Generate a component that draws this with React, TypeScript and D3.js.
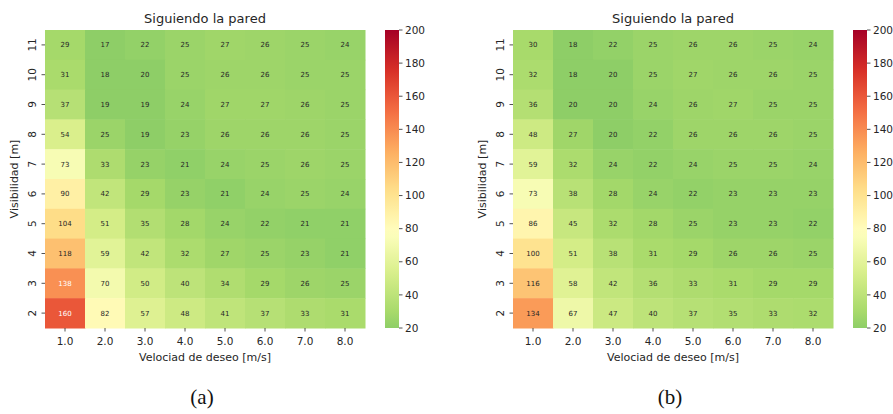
import React from 'react';
import * as d3 from 'd3';

// data
const speeds = ['1.0', '2.0', '3.0', '4.0', '5.0', '6.0', '7.0', '8.0'];
const visibilities = ['11', '10', '9', '8', '7', '6', '5', '4', '3', '2'];

const valuesA = [
  [29, 17, 22, 25, 27, 26, 25, 24],
  [31, 18, 20, 25, 26, 26, 25, 25],
  [37, 19, 19, 24, 27, 27, 26, 25],
  [54, 25, 19, 23, 26, 26, 26, 25],
  [73, 33, 23, 21, 24, 25, 26, 25],
  [90, 42, 29, 23, 21, 24, 25, 24],
  [104, 51, 35, 28, 24, 22, 21, 21],
  [118, 59, 42, 32, 27, 25, 23, 21],
  [138, 70, 50, 40, 34, 29, 26, 25],
  [160, 82, 57, 48, 41, 37, 33, 31],
];

const valuesB = [
  [30, 18, 22, 25, 26, 26, 25, 24],
  [32, 18, 20, 25, 27, 26, 26, 25],
  [36, 20, 20, 24, 26, 27, 25, 25],
  [48, 27, 20, 22, 26, 26, 26, 25],
  [59, 32, 24, 22, 24, 25, 25, 24],
  [73, 38, 28, 24, 22, 23, 23, 23],
  [86, 45, 32, 28, 25, 23, 23, 22],
  [100, 51, 38, 31, 29, 26, 26, 25],
  [116, 58, 42, 36, 33, 31, 29, 29],
  [134, 67, 47, 40, 37, 35, 33, 32],
];

const cbarTicks = [20, 40, 60, 80, 100, 120, 140, 160, 180, 200];

const vmin = 20;
const vmax = 200;
const center = 78;

// RdYlGn stops (matplotlib), used reversed
const rdylgn = ['#a50026', '#d73027', '#f46d43', '#fdae61', '#fee08b', '#ffffbf',
  '#d9ef8b', '#a6d96a', '#66bd63', '#1a9850', '#006837'];

const cmap = d3.scaleLinear<string>()
  .domain(d3.range(11).map((i) => i / 10))
  .range(rdylgn.slice().reverse())
  .interpolate(d3.interpolateRgb);

// seaborn-style centering: the map spans center +/- vrange, cut to [vmin, vmax]
const vrange = Math.max(vmax - center, center - vmin);
const norm = d3.scaleLinear().domain([center - vrange, center + vrange]).range([0, 1]).clamp(true);
const colorOf = (v) => cmap(norm(Math.max(vmin, Math.min(vmax, v))));

const luminance = (c) => {
  const rgb = d3.rgb(c);
  const lin = (x) => {
    const s = x / 255;
    return s <= 0.03928 ? s / 12.92 : Math.pow((s + 0.055) / 1.055, 2.4);
  };
  return 0.2126 * lin(rgb.r) + 0.7152 * lin(rgb.g) + 0.0722 * lin(rgb.b);
};

const font = 'DejaVu Sans, sans-serif';
const top = 30;
const plotW = 320;
const plotH = 298;

const Heatmap = ({ left, values, caption, id }) => {
  const x = d3.scaleBand().domain(speeds).range([0, plotW]);
  const y = d3.scaleBand().domain(visibilities).range([0, plotH]);
  const cbX = plotW + 20;
  const cbW = 14;
  const cbY = d3.scaleLinear().domain([vmin, vmax]).range([plotH, 0]);
  const stops = d3.range(vmin, vmax + 1, 5);

  return (
    <g transform={`translate(${left}, ${top})`}>
      <defs>
        <linearGradient id={`cb-${id}`} x1="0" y1="1" x2="0" y2="0">
          {stops.map((s) => (
            <stop key={s} offset={(s - vmin) / (vmax - vmin)} stopColor={colorOf(s)} />
          ))}
        </linearGradient>
      </defs>
      <text x={plotW / 2} y={-7} textAnchor="middle" fontFamily={font} fontSize={13} fill="#262626">
        Siguiendo la pared
      </text>
      {values.map((row, i) =>
        row.map((v, j) => {
          const c = colorOf(v);
          return (
            <g key={`${i}-${j}`}>
              <rect
                x={x(speeds[j])}
                y={y(visibilities[i])}
                width={x.bandwidth() + 0.5}
                height={y.bandwidth() + 0.5}
                fill={c}
              />
              <text
                x={x(speeds[j]) + x.bandwidth() / 2}
                y={y(visibilities[i]) + y.bandwidth() / 2}
                dy="0.35em"
                textAnchor="middle"
                fontFamily={font}
                fontSize={7}
                fill={luminance(c) > 0.408 ? '#262626' : '#ffffff'}
              >
                {v}
              </text>
            </g>
          );
        })
      )}
      {speeds.map((s) => (
        <g key={s} transform={`translate(${x(s) + x.bandwidth() / 2}, ${plotH})`}>
          <line y2={3.5} stroke="#262626" strokeWidth={0.8} />
          <text y={17} textAnchor="middle" fontFamily={font} fontSize={10.5} fill="#262626">{s}</text>
        </g>
      ))}
      {visibilities.map((s) => (
        <g key={s} transform={`translate(0, ${y(s) + y.bandwidth() / 2})`}>
          <line x2={-3.5} stroke="#262626" strokeWidth={0.8} />
          <text
            transform="translate(-9, 0) rotate(-90)"
            textAnchor="middle"
            fontFamily={font}
            fontSize={10.5}
            fill="#262626"
          >
            {s}
          </text>
        </g>
      ))}
      <text x={plotW / 2} y={plotH + 33} textAnchor="middle" fontFamily={font} fontSize={11} fill="#262626">
        Velociad de deseo [m/s]
      </text>
      <text
        transform={`translate(${-27}, ${plotH / 2}) rotate(-90)`}
        textAnchor="middle"
        fontFamily={font}
        fontSize={11}
        fill="#262626"
      >
        Visibilidad [m]
      </text>
      <rect x={cbX} y={0} width={cbW} height={plotH} fill={`url(#cb-${id})`} />
      {cbarTicks.map((t) => (
        <g key={t} transform={`translate(${cbX + cbW}, ${cbY(t)})`}>
          <line x2={3.5} stroke="#262626" strokeWidth={0.8} />
          <text x={6} dy="0.35em" fontFamily={font} fontSize={10.5} fill="#262626">{t}</text>
        </g>
      ))}
      <text
        x={plotW / 2 - 3}
        y={plotH + 76}
        textAnchor="middle"
        fontFamily="Liberation Serif, DejaVu Serif, serif"
        fontSize={21}
        fill="#111"
      >
        {caption}
      </text>
    </g>
  );
};

export default function App() {
  return (
    <svg
      width={893}
      height={414}
      style={{ position: 'absolute', left: 0, top: 0, background: '#fff' }}
    >
      <Heatmap left={45} values={valuesA} caption="(a)" id="a" />
      <Heatmap left={513} values={valuesB} caption="(b)" id="b" />
    </svg>
  );
}
